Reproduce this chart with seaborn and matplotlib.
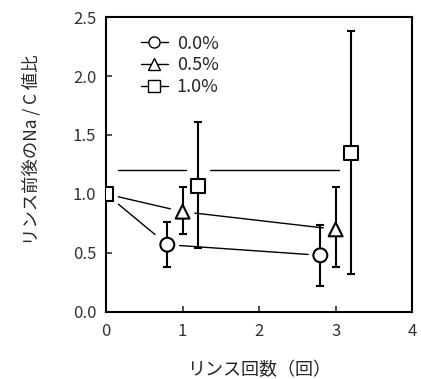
import numpy as np
import pandas as pd
import matplotlib
matplotlib.use("Agg")
import matplotlib.pyplot as plt
from matplotlib.lines import Line2D
import seaborn as sns

# ---- data ----
series = ["0.0%", "0.5%", "1.0%"]
x_00 = [0.0, 0.8, 2.8]
y_00 = [1.0, 0.57, 0.48]
lo_00 = [1.0, 0.38, 0.22]
hi_00 = [1.0, 0.76, 0.74]

x_05 = [0.0, 1.0, 3.0]
y_05 = [1.0, 0.85, 0.70]
lo_05 = [1.0, 0.66, 0.38]
hi_05 = [1.0, 1.06, 1.06]

x_10 = [0.0, 1.2, 3.2]
y_10 = [1.0, 1.07, 1.35]
lo_10 = [1.0, 0.54, 0.32]
hi_10 = [1.0, 1.61, 2.38]
# connector line of the 1.0% series as drawn in the original (flat)
conn_10 = [1.2, 1.2, 1.2]

x_ticks = [0, 1, 2, 3, 4]
y_ticks = [0.0, 0.5, 1.0, 1.5, 2.0, 2.5]
x_label = "リンス回数（回）"
y_label = "リンス前後のNa / C 値比"

sns.set_style("ticks")
plt.rcParams['font.family'] = ['Noto Sans CJK JP', 'DejaVu Sans']

fig = plt.figure(figsize=(4.21, 3.79), dpi=100)
ax = fig.add_axes([0.252, 0.177, 0.727, 0.778])

rows = []
for name, xs, ys in [("0.0%", x_00, y_00), ("0.5%", x_05, y_05), ("1.0%", x_10, y_10)]:
    for a, b in zip(xs, ys):
        rows.append({"x": a, "y": b, "s": name})
df = pd.DataFrame(rows)

markers = {"0.0%": "o", "0.5%": "^", "1.0%": "s"}

# connecting segments with gaps around markers
gap = 0.16
def draw_conn(xs, ys):
    for i in range(len(xs) - 1):
        x0, x1 = xs[i], xs[i + 1]
        y0, y1 = ys[i], ys[i + 1]
        L = x1 - x0
        t0, t1 = gap / L, 1 - gap / L
        ax.plot([x0 + t0 * L, x0 + t1 * L], [y0 + t0 * (y1 - y0), y0 + t1 * (y1 - y0)],
                color="black", lw=1.0, zorder=1)

draw_conn(x_00, y_00)
draw_conn(x_05, y_05)
draw_conn(x_10, conn_10)

# error bars
for xs, ys, lo, hi in [(x_00, y_00, lo_00, hi_00), (x_05, y_05, lo_05, hi_05), (x_10, y_10, lo_10, hi_10)]:
    xs_, ys_ = np.array(xs[1:]), np.array(ys[1:])
    err = [ys_ - np.array(lo[1:]), np.array(hi[1:]) - ys_]
    ax.errorbar(xs_, ys_, yerr=err, fmt="none", ecolor="black", elinewidth=1.5,
                capsize=3, capthick=1.5, zorder=2)

sns.scatterplot(data=df, x="x", y="y", style="s", markers=markers, s=100,
                color="white", edgecolor="black", linewidth=1.5, legend=False,
                zorder=3, ax=ax)

ax.set_xlim(0, 4)
ax.set_ylim(0, 2.5)
ax.set_xticks(x_ticks)
ax.set_xticklabels([str(t) for t in x_ticks])
ax.set_yticks(y_ticks)
ax.set_yticklabels([f"{t:.1f}" for t in y_ticks])
ax.tick_params(direction="in", length=4, width=1.2, labelsize=12, colors="#333333",
               pad=7)
ax.tick_params(axis="x", pad=8)
for sp in ax.spines.values():
    sp.set_linewidth(1.5)
    sp.set_color("black")
    sp.set_visible(True)

ax.set_xlabel(x_label, fontsize=13, labelpad=15)
ax.set_ylabel(y_label, fontsize=12.5, labelpad=10)
ax.yaxis.set_label_coords(-0.215, 0.55)

handles = [Line2D([0], [0], color="black", lw=1.0, marker=markers[s], markersize=8,
                  markerfacecolor="white", markeredgecolor="black", markeredgewidth=1.0)
           for s in series]
ax.legend(handles, series, loc="upper left", bbox_to_anchor=(0.06, 0.995), frameon=False,
          fontsize=13, handlelength=1.5, handletextpad=0.5, labelspacing=0.2)

fig.savefig("out.png", dpi=100)
